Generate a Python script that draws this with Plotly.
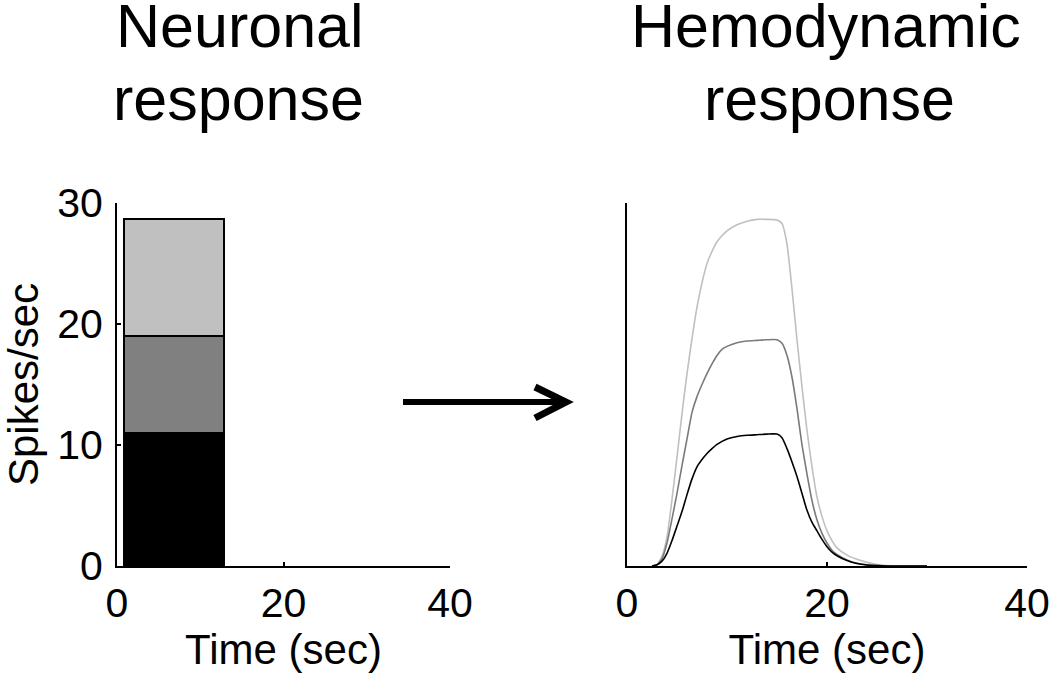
import plotly.graph_objects as go

# ---------------- data ----------------
bar_center = [6.85]          # stimulus block (sec), width 12
bar_width = 12
seg_low = [11.0]             # black segment (spikes/sec)
seg_mid = [8.0]              # gray segment (11 -> 19)
seg_high = [9.65]            # light-gray segment (19 -> 28.65)

t_black = [2.5, 3, 3.5, 4, 4.5, 5, 5.5, 6, 6.5, 7, 7.5, 8, 8.5, 9, 9.5, 10, 11, 12, 13, 14, 15,
           15.5, 16, 16.5, 17, 17.5, 18, 18.5, 19, 19.5, 20, 20.5, 21, 22, 23, 24, 25, 26, 30]
y_black = [0, 0.1, 0.4, 1.05, 2.1, 3.3, 4.5, 5.9, 7.2, 8.2, 8.8, 9.3, 9.7, 10.05, 10.3, 10.5, 10.7,
           10.8, 10.85, 10.9, 10.9, 10.6, 9.7, 8.6, 7.4, 6.0, 4.6, 3.6, 2.9, 2.2, 1.6, 1.15, 0.85,
           0.45, 0.2, 0.08, 0.03, 0, 0]

t_gray = [2.5, 3, 3.5, 4, 4.5, 5, 5.5, 6, 6.5, 7, 7.5, 8, 8.5, 9, 9.5, 10, 11, 12, 13, 14, 15,
          15.5, 16, 16.5, 17, 17.5, 18, 18.5, 19, 19.5, 20, 20.5, 21, 22, 23, 24, 25, 26, 30]
y_gray = [0, 0.1, 0.6, 1.9, 3.9, 6.0, 8.3, 10.5, 12.7, 14.0, 15.0, 15.9, 16.7, 17.4, 17.9, 18.15,
          18.45, 18.6, 18.65, 18.7, 18.7, 18.4, 17.4, 15.6, 13.0, 10.0, 7.6, 5.4, 3.8, 2.7, 1.9,
          1.3, 0.95, 0.5, 0.22, 0.09, 0.03, 0, 0]

t_light = [2.5, 3, 3.5, 4, 4.5, 5, 5.5, 6, 6.5, 7, 7.5, 8, 8.5, 9, 9.5, 10, 11, 12, 13, 14, 15,
           15.5, 16, 16.5, 17, 17.5, 18, 18.5, 19, 19.5, 20, 20.5, 21, 22, 23, 24, 25, 26, 27, 30]
y_light = [0, 0.1, 0.8, 2.4, 5.5, 9.0, 12.6, 15.9, 18.8, 21.4, 23.4, 25.0, 26.0, 26.8, 27.3, 27.7,
           28.2, 28.5, 28.65, 28.65, 28.6, 28.3, 26.6, 22.9, 18.7, 14.8, 11.2, 8.2, 5.7, 4.1, 2.9,
           2.1, 1.5, 0.9, 0.55, 0.3, 0.12, 0.04, 0, 0]

x_ticks = [0, 20, 40]
y_ticks = [0, 10, 20, 30]

# ---------------- figure ----------------
W, H = 1050, 677
FONT = "Liberation Sans, Arial, sans-serif"

def px(x):
    return x / W

def py(y):
    return 1 - y / H

fig = go.Figure()

for vals, col in [(seg_low, "#000000"), (seg_mid, "#808080"), (seg_high, "#c0c0c0")]:
    fig.add_trace(go.Bar(x=bar_center, y=vals, width=bar_width, marker=dict(color=col, line=dict(color="black", width=2)),
                         xaxis="x", yaxis="y", showlegend=False, hoverinfo="skip"))

for tt, yy, col in [(t_light, y_light, "#c0c0c0"), (t_gray, y_gray, "#7a7a7a"), (t_black, y_black, "#000000")]:
    fig.add_trace(go.Scatter(x=tt, y=yy, mode="lines", line=dict(color=col, width=1.6, shape="spline", smoothing=0.5),
                             xaxis="x2", yaxis="y2", showlegend=False, hoverinfo="skip"))

axis_common = dict(showline=True, linecolor="black", linewidth=2, ticks="inside", ticklen=4, tickwidth=1.5,
                   tickcolor="black", showgrid=False, zeroline=False, automargin=False,
                   tickfont=dict(family=FONT, size=41, color="black"))

fig.update_layout(
    template="none",
    width=W, height=H, margin=dict(l=0, r=0, t=0, b=0, pad=0), paper_bgcolor="white", plot_bgcolor="white",
    barmode="stack", bargap=0,
    xaxis=dict(domain=[px(117), px(450)], range=[0, 40], tickvals=x_ticks, anchor="y",
               title=dict(text="Time (sec)", font=dict(family=FONT, size=42, color="black"), standoff=4),
               **axis_common),
    yaxis=dict(domain=[py(566), py(203)], range=[0, 30], tickvals=y_ticks, anchor="x", ticklabelstandoff=4,
               title=dict(text="Spikes/sec", font=dict(family=FONT, size=42, color="black"), standoff=22),
               **axis_common),
    xaxis2=dict(domain=[px(627), px(1027)], range=[0, 40], tickvals=x_ticks, anchor="y2",
                title=dict(text="Time (sec)", font=dict(family=FONT, size=42, color="black"), standoff=4),
                **axis_common),
    yaxis2=dict(domain=[py(566), py(203)], range=[0, 30], anchor="x2", showticklabels=False, automargin=False,
                showline=True, linecolor="black", linewidth=2, ticks="", showgrid=False, zeroline=False),
)

# titles (one annotation per line to control line spacing)
for cx, line1, line2 in [(240, "Neuronal", "response"), (826, "Hemodynamic", "response")]:
    fig.add_annotation(x=px(cx), y=py(-10), xref="paper", yref="paper", xanchor="center", yanchor="top",
                       text=line1, showarrow=False, font=dict(family=FONT, size=61, color="black"))
    fig.add_annotation(x=px(cx + 3 if cx > 500 else cx - 2), y=py(63), xref="paper", yref="paper",
                       xanchor="center", yanchor="top",
                       text=line2, showarrow=False, font=dict(family=FONT, size=61, color="black"))

# arrow between panels
fig.add_shape(type="line", xref="paper", yref="paper", x0=px(403), y0=py(402), x1=px(563), y1=py(402),
              line=dict(color="black", width=6))
fig.add_shape(type="path", xref="paper", yref="paper",
              path=f"M {px(535)},{py(387)} L {px(566)},{py(402)} L {px(535)},{py(418)}",
              line=dict(color="black", width=7))

fig.write_html("out.html", config={"displayModeBar": False},
               post_script="document.body.style.margin='0px';document.body.style.overflow='hidden';")
